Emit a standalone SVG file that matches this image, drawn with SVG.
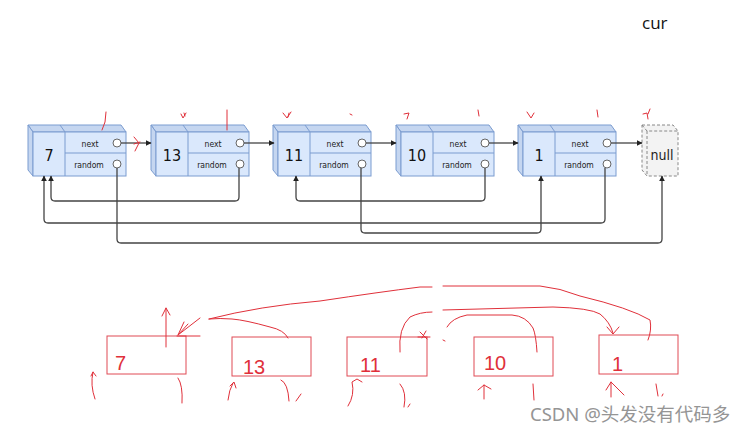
<svg xmlns="http://www.w3.org/2000/svg" width="756" height="435" viewBox="0 0 756 435">
<style>
.face{fill:#dae8fc;stroke:#7b9cd0;stroke-width:1}
.side{fill:#c5d6f0;stroke:#7b9cd0;stroke-width:1}
.val{font-family:"DejaVu Sans Condensed","DejaVu Sans",sans-serif;font-size:16px;fill:#111;text-anchor:middle}
.fld{font-family:"DejaVu Sans Condensed","DejaVu Sans",sans-serif;font-size:8.5px;fill:#222;text-anchor:middle}
.dot{fill:#fff;stroke:#666;stroke-width:1}
.conn{fill:none;stroke:#444;stroke-width:1.3}
.red{fill:none;stroke:#e0303a;stroke-width:1;stroke-linecap:round;stroke-linejoin:round}
.rbox{fill:none;stroke:#e04a55;stroke-width:1}
.rtxt{font-family:"Liberation Sans",Arial,sans-serif;font-size:20px;fill:#e0303a}
</style>
<defs>
<marker id="ah" viewBox="0 0 10 10" refX="9" refY="5" markerWidth="6" markerHeight="6" orient="auto" markerUnits="userSpaceOnUse">
<path d="M0,0 L10,5 L0,10 z" fill="#222"/>
</marker>
<g id="cube">
<path class="side" d="M0,0 L93,0 L98,7 L5,7 z"/>
<path class="side" d="M0,0 L5,7 L5,51 L0,45 z"/>
<rect class="face" x="5" y="7" width="93" height="44"/>
<line x1="32" y1="0" x2="37" y2="7" stroke="#7b9cd0"/>
<line x1="37" y1="7" x2="37" y2="51" stroke="#7b9cd0"/>
<line x1="37" y1="28" x2="98" y2="28" stroke="#7b9cd0"/>
<text class="fld" x="62" y="22">next</text>
<text class="fld" x="61" y="43">random</text>
<circle class="dot" cx="89" cy="18" r="4"/>
<circle class="dot" cx="89" cy="39" r="4"/>
</g>
</defs>
<rect width="756" height="435" fill="#fff"/>
<text x="642" y="29" font-family="Open Sans,sans-serif" font-size="17" fill="#111">cur</text>

<g id="n7" transform="translate(28,125)"><use href="#cube"/><text class="val" x="21" y="36">7</text></g>
<g id="n13" transform="translate(151,125)"><use href="#cube"/><text class="val" x="21" y="36">13</text></g>
<g id="n11" transform="translate(273,125)"><use href="#cube"/><text class="val" x="21" y="36">11</text></g>
<g id="n10" transform="translate(396,125)"><use href="#cube"/><text class="val" x="21" y="36">10</text></g>
<g id="n1" transform="translate(518,125)"><use href="#cube"/><text class="val" x="21" y="36">1</text></g>
<g id="nnull">
<path d="M642,125 L673,125 L678,131 L678,176 L647,176 L642,170 z" fill="#f3f3f3" stroke="#888" stroke-dasharray="3,2" stroke-linejoin="miter"/>
<path d="M642,125 L647,131 L678,131 M647,131 L647,176" fill="none" stroke="#888" stroke-dasharray="3,2"/>
<text x="662" y="160" font-family="DejaVu Sans Condensed,DejaVu Sans,sans-serif" font-size="14" fill="#222" text-anchor="middle">null</text>
</g>

<g id="connectors">
<path class="conn" d="M121,143 H151" marker-end="url(#ah)"/>
<path class="conn" d="M244,143 H274" marker-end="url(#ah)"/>
<path class="conn" d="M366,143 H396" marker-end="url(#ah)"/>
<path class="conn" d="M489,143 H518" marker-end="url(#ah)"/>
<path class="conn" d="M611,143 H642" stroke-width="2" marker-end="url(#ah)"/>
<path class="conn" d="M239,168 V197 Q239,201 235,201 H55 Q51,201 51,197 V176" marker-end="url(#ah)"/>
<path class="conn" d="M605,168 V219 Q605,223 601,223 H48 Q44,223 44,219 V176" marker-end="url(#ah)"/>
<path class="conn" d="M117,168 V239 Q117,243 121,243 H658 Q662,243 662,239 V176" marker-end="url(#ah)"/>
<path class="conn" d="M485,168 V197 Q485,201 481,201 H300 Q296,201 296,197 V176" marker-end="url(#ah)"/>
<path class="conn" d="M361,168 V229 Q361,233 365,233 H537 Q541,233 541,229 V176" stroke-width="1.6" marker-end="url(#ah)"/>
</g>

<g id="marks-top">
<path class="red" d="M106,112 L105,122 L102,130"/>
<path class="red" d="M134,137 L139,143 L135,151 M134,144 L140,142"/>
<path class="red" d="M181,114 L183,118 L186,113 M184,113 L185,116"/>
<path class="red" d="M227,110 L227,130"/>
<path class="red" d="M283,113 L287,118 L291,112 M289,113 L288,117"/>
<path class="red" d="M350,114 L352,115"/>
<path class="red" d="M404,114 L409,113 L407,119"/>
<path class="red" d="M478,110 L479,116"/>
<path class="red" d="M527,112 L531,118 L534,113"/>
<path class="red" d="M597,110 L598,117"/>
<path class="red" d="M643,114 L647,113 L648,119 M650,109 L648,114"/>
</g>

<g id="b7"><rect class="rbox" x="107" y="336" width="79" height="38"/><text class="rtxt" x="115" y="370">7</text></g>
<g id="b13"><rect class="rbox" x="232" y="337" width="79" height="39"/><text class="rtxt" x="243" y="374">13</text></g>
<g id="b11"><rect class="rbox" x="347" y="337" width="80" height="39"/><text class="rtxt" x="360" y="372">11</text></g>
<g id="b10"><rect class="rbox" x="474" y="337" width="79" height="39"/><text class="rtxt" x="484" y="370">10</text></g>
<g id="b1"><rect class="rbox" x="599" y="335" width="79" height="39"/><text class="rtxt" x="612" y="371">1</text></g>

<g id="marks-bottom">
<path class="red" d="M166,347 L166,308 M162,316 L166,308 L170,315"/>
<path class="red" d="M200,318 L178,335 M188,324 L178,335 L184,322 M177,336 H200"/>
<path class="red" d="M288,338 Q284,330 270,327 Q245,320 232,319 Q220,318 209,319"/>
<path class="red" d="M209,319 Q260,306 320,301 Q380,292 420,287 H432 M443,286 H540 Q560,288 580,296 Q630,308 650,320 Q652,330 648,340"/>
<path class="red" d="M400,352 Q398,328 410,317 Q420,312 432,312 M443,310 L553,307 Q590,308 600,314 Q610,322 613,333 M607,327 L613,334 L619,327"/>
<path class="red" d="M537,352 Q536,335 533,328 Q526,316 512,315 H467 Q452,318 447,327 M443,340 L445,341"/>
<path class="red" d="M420,332 L427,339 M426,331 L422,338 M418,337 L430,337"/>
<path class="red" d="M95,399 Q90,385 93,372 M91,376 L93,372 L96,376"/>
<path class="red" d="M178,378 Q183,385 182,403"/>
<path class="red" d="M228,400 Q229,390 233,383 M230,386 L234,382 L236,388"/>
<path class="red" d="M281,380 Q288,383 289,401"/>
<path class="red" d="M296,401 L301,394"/>
<path class="red" d="M348,406 Q355,395 352,382 L357,379 L362,382"/>
<path class="red" d="M400,384 Q407,392 404,407 M408,407 L410,404"/>
<path class="red" d="M484,399 L484,385 M478,390 L484,385 L491,389"/>
<path class="red" d="M533,384 L534,400"/>
<path class="red" d="M611,397 L611,382 M606,390 L611,382 L624,395"/>
<path class="red" d="M656,384 L658,396 M662,396 L663,394"/>
</g>

<text x="530" y="421" font-family="Noto Sans,Noto Sans CJK SC,sans-serif" font-size="18.5" fill="#8a8a8a" opacity="0.9">CSDN @头发没有代码多</text>
</svg>
